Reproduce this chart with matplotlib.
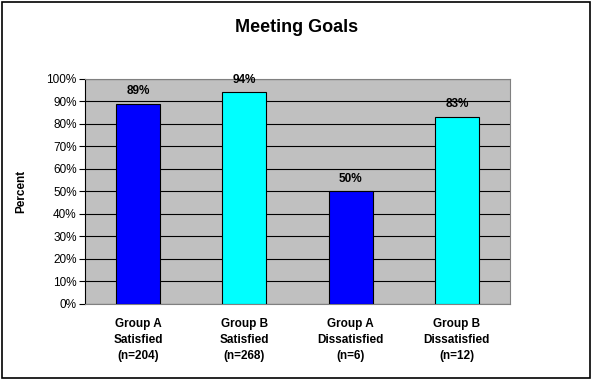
import matplotlib
matplotlib.use("Agg")
from matplotlib import pyplot as plt
from matplotlib.patches import Rectangle
import numpy as np

# Chart data
categories = ["Group A\nSatisfied\n(n=204)", "Group B\nSatisfied\n(n=268)",
              "Group A\nDissatisfied\n(n=6)", "Group B\nDissatisfied\n(n=12)"]
values = [89, 94, 50, 83]
bar_colors = ["#0000FF", "#00FFFF", "#0000FF", "#00FFFF"]
y_ticks = list(range(0, 101, 10))

plt.rcParams["font.family"] = ["Liberation Sans", "DejaVu Sans"]

fig = plt.figure(figsize=(5.93, 3.81), dpi=100)
ax = fig.add_axes([0.1433, 0.2021, 0.7167, 0.5906])

# Outer chart border
fig.patches.append(Rectangle((0.003, 0.008), 0.992, 0.987, transform=fig.transFigure,
                             fill=False, edgecolor="black", linewidth=1.2))

x = np.arange(len(categories))
ax.set_facecolor("#C0C0C0")
ax.bar(x, values, width=0.415, color=bar_colors, edgecolor="black", linewidth=0.8, zorder=3)

for xi, v in zip(x, values):
    ax.text(xi, v + 3, f"{v}%", ha="center", va="bottom", fontsize=8.5, fontweight="bold")

ax.set_xlim(-0.5, len(categories) - 0.5)
ax.set_ylim(0, 100)
ax.set_yticks(y_ticks)
ax.set_yticklabels([f"{t}%" for t in y_ticks], fontsize=8.5)
ax.yaxis.grid(True, color="black", linewidth=0.8, zorder=1)
ax.set_axisbelow(True)
ax.tick_params(axis="y", length=4, width=0.8, pad=2)
ax.set_xticks(x)
ax.set_xticklabels(categories, fontsize=8.5, fontweight="bold", linespacing=1.45)
ax.tick_params(axis="x", length=0, pad=10)

for side in ["top", "right", "bottom"]:
    ax.spines[side].set_color("#808080")
ax.spines["left"].set_color("black")

ax.set_ylabel("Percent", fontsize=8.5, fontweight="bold", labelpad=14)
fig.text(0.5, 0.928, "Meeting Goals", ha="center", va="center", fontsize=13, fontweight="bold")

plt.savefig("out.png", dpi=100)
